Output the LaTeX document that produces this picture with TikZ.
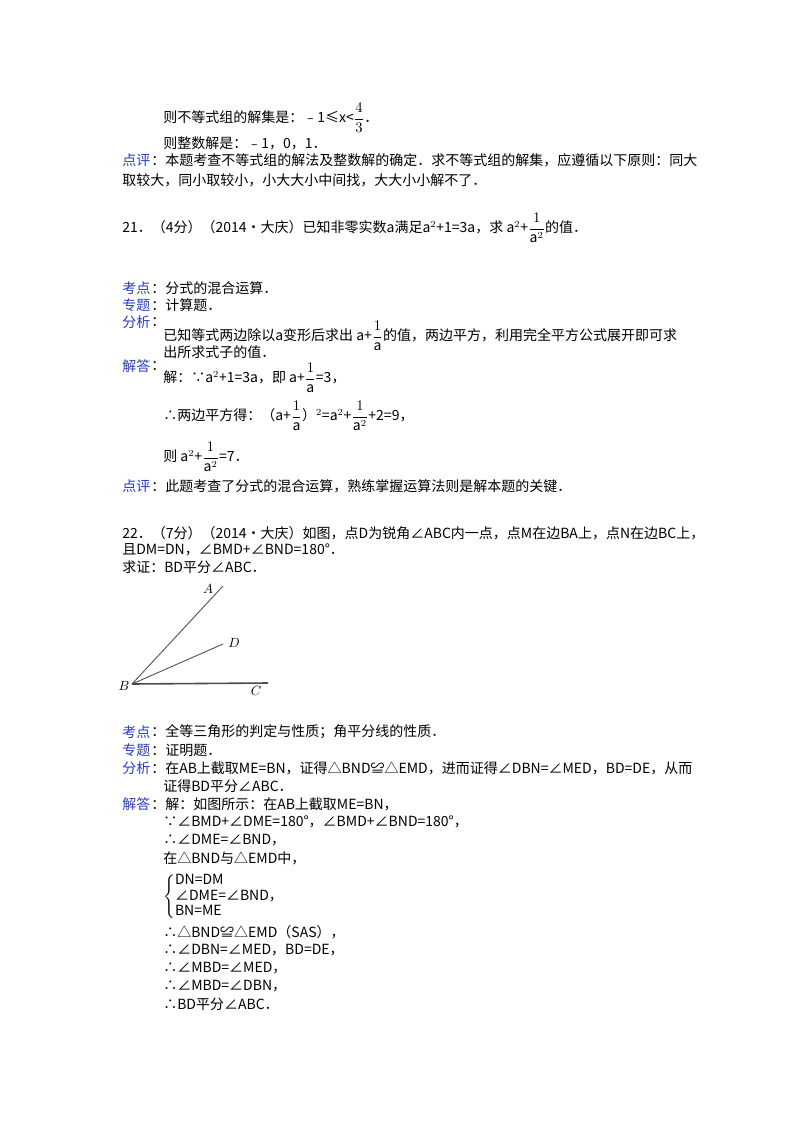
\documentclass[tikz,border=0pt]{standalone}
\usepackage{amsmath}
\usepackage{fontspec}
\setmainfont{Noto Sans CJK SC}
\definecolor{lab}{RGB}{40,60,200}
\begin{document}
\begin{tikzpicture}[x=0.75pt,y=-0.75pt,
  t/.style={anchor=west,inner sep=0pt,font=\fontsize{10.5pt}{12pt}\selectfont},
  lb/.style={t,text=lab}]
\useasboundingbox (0,0) rectangle (800,1132);
\fill[white] (0,0) rectangle (800,1132);
\node[t] (l1) at (163,118) {则不等式组的解集是：﹣1≤x<$\dfrac{4}{3}$．};
\node[t] (l2) at (163,143) {则整数解是：﹣1，0，1．};
\node[lb] (k0) at (122,160) {点评};
\node[t] (l3) at (151,160) {：本题考查不等式组的解法及整数解的确定．求不等式组的解集，应遵循以下原则：同大};
\node[t] (l4) at (122,180) {取较大，同小取较小，小大大小中间找，大大小小解不了．};
\node[t] (q21) at (122,228) {21．（4分）（2014•大庆）已知非零实数a满足a$^2$+1=3a，求 a$^2$+$\dfrac{1}{\text{a}^2}$的值．};
\node[lb] (k1) at (122,288) {考点};\node[t] at (151,288) {：分式的混合运算．};
\node[lb] (k2) at (122,305) {专题};\node[t] at (151,305) {：计算题．};
\node[lb] (k3) at (122,322) {分析};\node[t] at (151,322) {：};
\node[t] at (163,336) {已知等式两边除以a变形后求出 a+$\dfrac{1}{\text{a}}$的值，两边平方，利用完全平方公式展开即可求};
\node[t] at (163,352) {出所求式子的值．};
\node[lb] (k4) at (122,366) {解答};\node[t] at (151,366) {：};
\node[t] at (163,378) {解：∵a$^2$+1=3a，即 a+$\dfrac{1}{\text{a}}$=3，};
\node[t] at (163,416) {∴两边平方得：（a+$\dfrac{1}{\text{a}}$）$^2$=a$^2$+$\dfrac{1}{\text{a}^2}$+2=9，};
\node[t] at (163,457) {则 a$^2$+$\dfrac{1}{\text{a}^2}$=7．};
\node[lb] (k5) at (122,486) {点评};\node[t] at (151,486) {：此题考查了分式的混合运算，熟练掌握运算法则是解本题的关键．};
\node[t] at (122,533) {22．（7分）（2014•大庆）如图，点D为锐角∠ABC内一点，点M在边BA上，点N在边BC上，};
\node[t] at (122,550) {且DM=DN，∠BMD+∠BND=180°．};
\node[t] at (122,567) {求证：BD平分∠ABC．};
% figure
\coordinate (B) at (132,684);
\coordinate (A) at (223,586);
\coordinate (D) at (223,644);
\coordinate (C) at (268,683);
\draw[line width=0.7pt,gray!70!black] (B) -- (A) (B) -- (D);
\draw[line width=1.2pt,gray!60!black] (B) -- (C);
\node at (208,589) {$A$};
\node at (234,643) {$D$};
\node at (124,686) {$B$};
\node at (256,691) {$C$};
\node[lb] (k6) at (122,732) {考点};\node[t] at (151,732) {：全等三角形的判定与性质；角平分线的性质．};
\node[lb] (k7) at (122,750) {专题};\node[t] at (151,750) {：证明题．};
\node[lb] (k8) at (122,768) {分析};\node[t] at (151,768) {：在AB上截取ME=BN，证得△BND≌△EMD，进而证得∠DBN=∠MED，BD=DE，从而};
\node[t] at (163,786) {证得BD平分∠ABC．};
\node[lb] (k9) at (122,804) {解答};\node[t] at (151,804) {：解：如图所示：在AB上截取ME=BN，};
\node[t] at (163,822) {∵∠BMD+∠DME=180°，∠BMD+∠BND=180°，};
\node[t] at (163,840) {∴∠DME=∠BND，};
\node[t] at (163,858) {在△BND与△EMD中，};
\node[t] at (163,897) {$\renewcommand{\arraystretch}{0.95}\left\{\begin{array}{@{}l}\text{DN=DM}\\ \text{∠DME=∠BND，}\\ \text{BN=ME}\end{array}\right.$};
\node[t] at (163,932) {∴△BND≌△EMD（SAS），};
\node[t] at (163,950) {∴∠DBN=∠MED，BD=DE，};
\node[t] at (163,968) {∴∠MBD=∠MED，};
\node[t] at (163,986) {∴∠MBD=∠DBN，};
\node[t] at (163,1004) {∴BD平分∠ABC．};
\end{tikzpicture}
\end{document}
